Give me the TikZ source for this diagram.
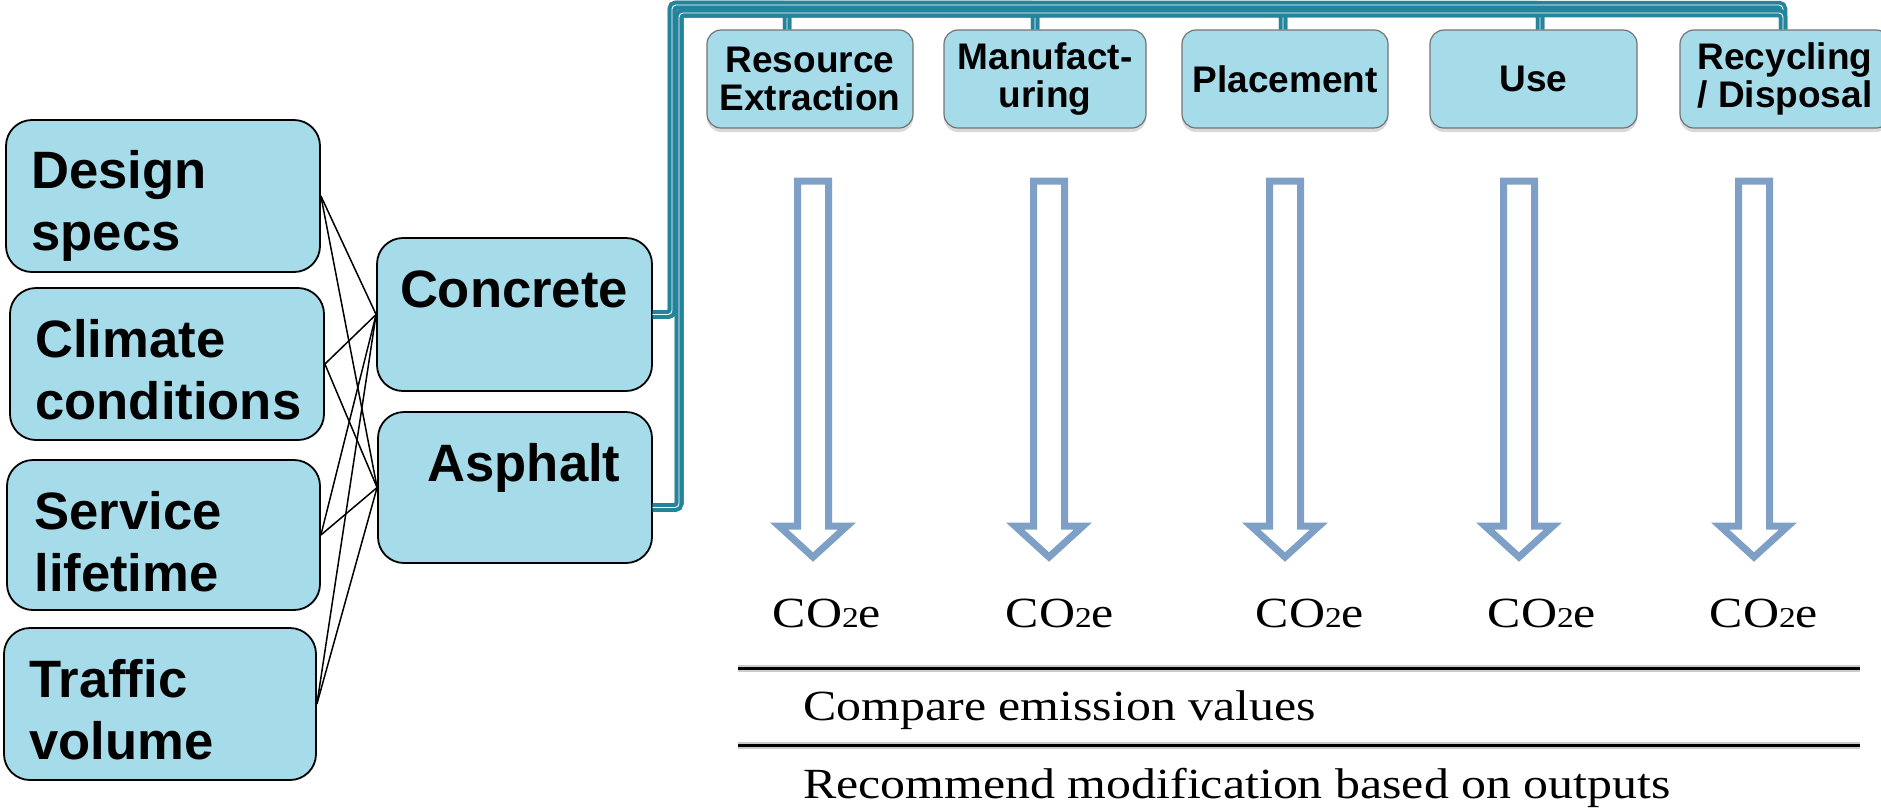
\documentclass[tikz,border=0pt]{standalone}
\usepackage{fontspec}
\usetikzlibrary{calc,shadows}
\newfontfamily\sansb{Liberation Sans}
\newfontfamily\serifw[FakeStretch=1.16]{Liberation Serif}
\definecolor{boxfill}{RGB}{166,220,234}
\definecolor{busc}{RGB}{36,132,156}
\definecolor{arrc}{RGB}{127,160,198}
\newcommand\lowtwo{{\fontsize{14.4}{14}\selectfont 2}}
\begin{document}
\begin{tikzpicture}[x=0.5pt,y=-0.5pt,
  inbox/.style={draw=black, line width=0.9pt, fill=boxfill, rounded corners=13pt,
    minimum width=157pt, minimum height=76pt, inner sep=0pt},
  intext/.style={anchor=base west, inner sep=0pt, font=\sansb\bfseries\fontsize{26.3}{31}\selectfont},
  stage/.style={draw=black!55, line width=0.6pt, fill=boxfill, rounded corners=7pt,
    minimum height=49pt, inner sep=0pt, align=center,
    font=\sansb\bfseries\fontsize{18.5}{19}\selectfont,
    drop shadow={shadow xshift=0pt, shadow yshift=-2pt, opacity=0.3}},
  link/.style={draw=black, line width=0.75pt},
  bus/.style={draw=busc, line width=1.9pt, double=white, double distance=0.45pt, rounded corners=2pt},
  hollow/.style={draw=arrc, line width=3.5pt, fill=white, line join=miter},
  co/.style={anchor=base, inner sep=0pt, font=\serifw\fontsize{21.5}{25}\selectfont},
  note/.style={anchor=base west, inner sep=0pt, font=\serifw\fontsize{21.5}{25}\selectfont},
  rulel/.style={draw=black, line width=1.5pt},
  ruleshadow/.style={draw=black!20, line width=3.5pt}
]
\useasboundingbox (0,0) rectangle (1881,811);

% left input boxes
\node[inbox] (design) at (163,196) {};
\node[inbox] (climate) at (167,364) {};
\node[inbox, minimum width=156.5pt, minimum height=75pt] (service) at (163.5,535) {};
\node[inbox, minimum width=156pt] (traffic) at (160,704) {};
\node[intext] (designT) at (31,188) {\begin{tabular}[t]{@{}l@{}}Design\\specs\end{tabular}};
\node[intext] (climateT) at (35,357) {\begin{tabular}[t]{@{}l@{}}Climate\\conditions\end{tabular}};
\node[intext] (serviceT) at (34,529) {\begin{tabular}[t]{@{}l@{}}Service\\lifetime\end{tabular}};
\node[intext] (trafficT) at (29,697) {\begin{tabular}[t]{@{}l@{}}Traffic\\volume\end{tabular}};

% material boxes
\node[inbox, minimum width=137.5pt, minimum height=76.5pt] (concrete) at (514.5,314.5) {};
\node[inbox, minimum width=137pt, minimum height=75.5pt] (asphalt) at (515,487.5) {};
\node[intext, anchor=base] (concreteT) at (514,307) {Concrete};
\node[intext, anchor=base] (asphaltT) at (524,481) {Asphalt};

\foreach \s in {design,climate,service,traffic}
  \foreach \t in {concrete,asphalt}
    \draw[link] (\s.east) -- (\t.west);

% stage boxes
\node[stage, minimum width=103pt] (res) at (810,79) {Resource\\Extraction};
\node[stage, minimum width=101pt] (man) at (1045,79) {Manufact-\\uring};
\node[stage, minimum width=103pt] (pla) at (1285,79) {Placement};
\node[stage, minimum width=103.5pt] (use) at (1533.5,79) {Use};
\node[stage, minimum width=105pt] (rec) at (1785,79) {Recycling\\/ Disposal};

% bus connectors
\coordinate (cbus) at (672,5);
\coordinate (abus) at (679,13);
\foreach \n/\dx in {res/-23,man/-10,pla/-2,use/6.5,rec/-2} {
  \draw[bus] (concrete.east) -| (cbus) -| ($(\n.north)+(\dx,0)$);
  \draw[bus] ($(asphalt.east)+(0,20)$) -| (abus) -| ($(\n.north)+(\dx,0)$);
}

% hollow arrows
\foreach \cx in {813,1049,1285,1519,1754}
  \draw[hollow] (\cx-15.5,181) -- (\cx+15.5,181) -- (\cx+15.5,526) -- (\cx+34,526)
     -- (\cx,557) -- (\cx-34,526) -- (\cx-15.5,526) -- cycle;

% CO2e labels
\node[co] (co1) at (827,627) {CO\lowtwo e};
\node[co] (co2) at (1060,627) {CO\lowtwo e};
\node[co] (co3) at (1310,627) {CO\lowtwo e};
\node[co] (co4) at (1542,627) {CO\lowtwo e};
\node[co] (co5) at (1764,627) {CO\lowtwo e};

% rules and notes
\draw[ruleshadow] (738,668) -- (1860,668);
\draw[rulel] (738,668) -- (1860,668);
\draw[ruleshadow] (738,745) -- (1860,745);
\draw[rulel] (738,745) -- (1860,745);
\node[note] (cmp) at (803,720) {Compare emission values};
\node[note] (rcm) at (803,798) {Recommend modification based on outputs};
\end{tikzpicture}
\end{document}
